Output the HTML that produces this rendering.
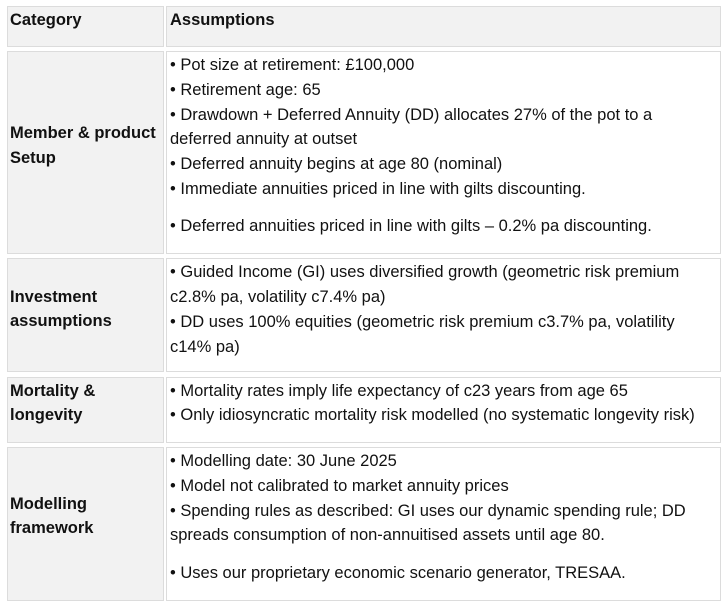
<!DOCTYPE html>
<html><head><meta charset="utf-8"><style>
body{margin:0;width:726px;height:607px;background:#fff;font-family:"Liberation Sans",sans-serif;font-size:16.5px;color:#111;position:relative;overflow:hidden}
.c{position:absolute;border:1px solid #dcdcdc;box-sizing:border-box}
.g{background:#f2f2f2}
.t{position:absolute;white-space:nowrap;line-height:20px;margin-top:1px}
.b{font-weight:bold}
</style></head><body>
<div class="c g" style="left:7px;top:6px;width:157px;height:41px"></div>
<div class="c g" style="left:166px;top:6px;width:555px;height:41px"></div>
<div class="c g" style="left:7px;top:51px;width:157px;height:203px"></div>
<div class="c" style="left:166px;top:51px;width:555px;height:203px"></div>
<div class="c g" style="left:7px;top:258px;width:157px;height:114px"></div>
<div class="c" style="left:166px;top:258px;width:555px;height:114px"></div>
<div class="c g" style="left:7px;top:377px;width:157px;height:66px"></div>
<div class="c" style="left:166px;top:377px;width:555px;height:66px"></div>
<div class="c g" style="left:7px;top:447px;width:157px;height:154px"></div>
<div class="c" style="left:166px;top:447px;width:555px;height:154px"></div>

<div class="t b" style="left:10px;top:9px">Category</div>
<div class="t b" style="left:170px;top:9px">Assumptions</div>

<div class="t b" style="left:10px;top:122px">Member &amp; product</div>
<div class="t b" style="left:10px;top:147px">Setup</div>
<div class="t b" style="left:10px;top:286px">Investment</div>
<div class="t b" style="left:10px;top:310px">assumptions</div>
<div class="t b" style="left:10px;top:380px">Mortality &amp;</div>
<div class="t b" style="left:10px;top:404px">longevity</div>
<div class="t b" style="left:10px;top:493px">Modelling</div>
<div class="t b" style="left:10px;top:517px">framework</div>

<div class="t" style="left:170px;top:54px">• Pot size at retirement: £100,000</div>
<div class="t" style="left:170px;top:79px">• Retirement age: 65</div>
<div class="t" style="left:170px;top:104px">• Drawdown + Deferred Annuity (DD) allocates 27% of the pot to a</div>
<div class="t" style="left:170px;top:128px">deferred annuity at outset</div>
<div class="t" style="left:170px;top:153px">• Deferred annuity begins at age 80 (nominal)</div>
<div class="t" style="left:170px;top:178px">• Immediate annuities priced in line with gilts discounting.</div>
<div class="t" style="left:170px;top:215px">• Deferred annuities priced in line with gilts – 0.2% pa discounting.</div>

<div class="t" style="left:170px;top:261px">• Guided Income (GI) uses diversified growth (geometric risk premium</div>
<div class="t" style="left:170px;top:286px">c2.8% pa, volatility c7.4% pa)</div>
<div class="t" style="left:170px;top:311px">• DD uses 100% equities (geometric risk premium c3.7% pa, volatility</div>
<div class="t" style="left:170px;top:336px">c14% pa)</div>

<div class="t" style="left:170px;top:380px">• Mortality rates imply life expectancy of c23 years from age 65</div>
<div class="t" style="left:170px;top:404px">• Only idiosyncratic mortality risk modelled (no systematic longevity risk)</div>

<div class="t" style="left:170px;top:450px">• Modelling date: 30 June 2025</div>
<div class="t" style="left:170px;top:475px">• Model not calibrated to market annuity prices</div>
<div class="t" style="left:170px;top:500px">• Spending rules as described: GI uses our dynamic spending rule; DD</div>
<div class="t" style="left:170px;top:524px">spreads consumption of non-annuitised assets until age 80.</div>
<div class="t" style="left:170px;top:562px">• Uses our proprietary economic scenario generator, TRESAA.</div>
</body></html>
